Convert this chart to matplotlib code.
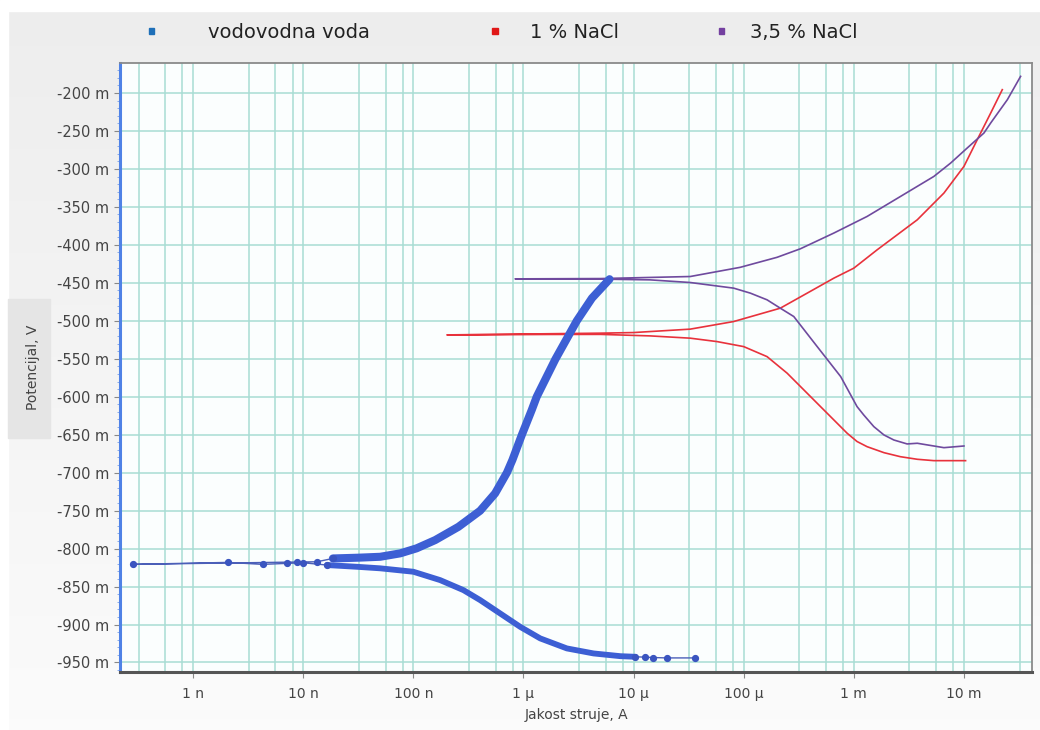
"""
Polarizacijske krivulje (Tafel) - vodovodna voda, 1 % NaCl, 3,5 % NaCl.
"""

import matplotlib
matplotlib.use('Agg')
import matplotlib.pyplot as plt
import matplotlib.patches as patches
import matplotlib.ticker as mticker
import numpy as np

# --- data: current (A), potential (V) ---
# vodovodna voda, split by how dense the measured points are
blue_tail_I = [3.63e-5, 2.0e-5, 1.51e-5, 1.28e-5, 1.035e-5]
blue_tail_E = [-0.944, -0.944, -0.9435, -0.943, -0.9425]

blue_cath_I = [1.035e-5, 7.59e-6, 4.33e-6, 2.48e-6, 1.42e-6, 9.33e-7, 6.14e-7,
               4.04e-7, 2.85e-7, 1.75e-7, 1.0e-7, 5.0e-8, 3.09e-8, 1.64e-8]
blue_cath_E = [-0.9425, -0.9417, -0.9381, -0.9315, -0.9183, -0.903, -0.8854,
               -0.8678, -0.8547, -0.8415, -0.8305, -0.826, -0.824, -0.8217]

blue_tip_I = [1.64e-8, 1.0e-8, 7.1e-9, 4.27e-9, 2.07e-9, 2.85e-10,
              8.7e-9, 1.33e-8, 1.86e-8]
blue_tip_E = [-0.8217, -0.8187, -0.8195, -0.8208, -0.8182, -0.8208,
              -0.8177, -0.8174, -0.813]

blue_anod_I = [1.86e-8, 3.16e-8, 5.0e-8, 7.6e-8, 1.07e-7, 1.58e-7, 2.57e-7,
               4.04e-7, 5.53e-7, 7.08e-7, 7.94e-7, 9.66e-7, 1.19e-6, 1.32e-6,
               1.95e-6, 3.05e-6, 4.19e-6, 6.05e-6]
blue_anod_E = [-0.813, -0.812, -0.8108, -0.8063, -0.7997, -0.7888, -0.7713,
               -0.7502, -0.7273, -0.700, -0.6833, -0.6504, -0.6174, -0.600,
               -0.5506, -0.5001, -0.4702, -0.4452]

# 1 % NaCl
red_I = [1.035e-2, 5.33e-3, 3.77e-3, 2.65e-3, 1.88e-3, 1.32e-3, 1.07e-3,
         8.7e-4, 5.73e-4, 3.77e-4, 2.48e-4, 1.63e-4, 1.0e-4, 5.73e-5,
         3.27e-5, 1.41e-5, 5.0e-6, 1.74e-6, 6.2e-7, 2.02e-7,
         5.0e-6, 1.0e-5, 3.27e-5, 8.1e-5, 1.32e-4, 2.15e-4, 3.77e-4,
         6.6e-4, 1.0e-3, 1.63e-3, 3.77e-3, 6.58e-3, 1.0e-2, 1.32e-2,
         1.75e-2, 2.23e-2]
red_E = [-0.6842, -0.6842, -0.6824, -0.679, -0.6737, -0.6658, -0.659,
         -0.6481, -0.6218, -0.5954, -0.569, -0.5472, -0.534, -0.5274,
         -0.5229, -0.5199, -0.5179, -0.518, -0.5183, -0.5186,
         -0.5163, -0.5155, -0.511, -0.501, -0.4922, -0.4834, -0.4636,
         -0.4438, -0.4307, -0.4065, -0.367, -0.3318, -0.2967, -0.2616,
         -0.2264, -0.1956]

# 3,5 % NaCl
purple_I = [1.0e-2, 6.58e-3, 3.77e-3, 3.05e-3, 2.31e-3, 1.88e-3, 1.52e-3,
            1.23e-3, 1.07e-3, 7.6e-4, 4.65e-4, 2.85e-4, 2.15e-4, 1.63e-4,
            1.15e-4, 8.1e-5, 3.27e-5, 1.41e-5, 5.0e-6, 8.4e-7,
            5.0e-6, 3.27e-5, 9.3e-5, 2.01e-4, 3.27e-4, 6.58e-4, 1.32e-3,
            2.65e-3, 5.33e-3, 7.57e-3, 1.07e-2, 1.52e-2, 1.75e-2, 2.48e-2,
            3.27e-2]
purple_E = [-0.6649, -0.6671, -0.6613, -0.6622, -0.657, -0.6504, -0.6394,
            -0.624, -0.613, -0.5735, -0.534, -0.4944, -0.4834, -0.4724,
            -0.4636, -0.457, -0.4496, -0.4461, -0.4451, -0.4448,
            -0.4444, -0.4417, -0.4296, -0.4164, -0.4052, -0.3845, -0.3626,
            -0.3363, -0.3099, -0.2923, -0.2725, -0.2527, -0.2395, -0.2088,
            -0.1781]

legend_labels = ['vodovodna voda', '1 % NaCl', '3,5 % NaCl']
x_tick_vals = [1e-9, 1e-8, 1e-7, 1e-6, 1e-5, 1e-4, 1e-3, 1e-2]
x_tick_labels = ['1 n', '10 n', '100 n', '1 µ', '10 µ', '100 µ', '1 m', '10 m']
y_tick_vals = np.arange(-0.95, -0.19, 0.05)

BLUE = '#3d5fd4'
RED = '#e8323c'
PURPLE = '#6f4a9e'
GRID = '#a8ddd4'
TXT = '#444444'

fig = plt.figure(figsize=(10.4, 7.3), dpi=100)

# background gradient
bg = fig.add_axes([0, 0, 1, 1], zorder=-2)
grad = np.linspace(0.93, 0.985, 256).reshape(-1, 1)
bg.imshow(np.dstack([grad, grad, grad]), aspect='auto', extent=[0, 1, 0, 1])
bg.add_patch(patches.Rectangle((0, 0.985), 1, 0.015, color='white'))
bg.add_patch(patches.Rectangle((0, 0), 0.008, 1, color='white'))
bg.add_patch(patches.Rectangle((0.008, 0.40), 0.04, 0.19, color='#e5e5e5'))
bg.set_xlim(0, 1)
bg.set_ylim(0, 1)
bg.axis('off')

ax = fig.add_axes([0.1154, 0.0795, 0.8769, 0.8342])
ax.set_facecolor('#fbfefe')
ax.set_xscale('log')
ax.set_xlim(2.17e-10, 4.15e-2)
ax.set_ylim(-0.9625, -0.1605)

# grid: decades plus 3.2, 5.6, 8 within each decade
minor_pos = [d * m for d in 10.0 ** np.arange(-10, -1) for m in (3.2, 5.6, 8.0)]
ax.xaxis.set_major_locator(mticker.FixedLocator(x_tick_vals))
ax.xaxis.set_minor_locator(mticker.FixedLocator(minor_pos))
ax.xaxis.set_major_formatter(mticker.FixedFormatter(x_tick_labels))
ax.xaxis.set_minor_formatter(mticker.NullFormatter())
ax.yaxis.set_major_locator(mticker.FixedLocator(y_tick_vals))
ax.yaxis.set_minor_locator(mticker.MultipleLocator(0.01))
ax.yaxis.set_major_formatter(mticker.FuncFormatter(lambda v, _: f"{v * 1000:.0f} m"))

ax.grid(True, which='both', axis='x', color=GRID, lw=1.1)
ax.grid(True, which='major', axis='y', color=GRID, lw=1.1)
ax.set_axisbelow(True)

ax.tick_params(axis='x', which='major', length=4, color='#888888',
               labelsize=10, labelcolor=TXT, pad=7)
ax.tick_params(axis='x', which='minor', length=0)
ax.tick_params(axis='y', which='major', length=4, color='#888888',
               labelsize=10.5, labelcolor=TXT, pad=4)
ax.tick_params(axis='y', which='minor', length=2, color='#7aa0e8')

ax.spines['left'].set_color('#4f82e6')
ax.spines['left'].set_linewidth(2.2)
ax.spines['bottom'].set_color('#555555')
ax.spines['bottom'].set_linewidth(2.2)
for s in ('top', 'right'):
    ax.spines[s].set_color('#8a8a8a')
    ax.spines[s].set_linewidth(1.3)

# --- curves ---
ax.plot(red_I, red_E, color=RED, lw=1.2, zorder=3)
ax.plot(purple_I, purple_E, color=PURPLE, lw=1.2, zorder=3)

all_I = blue_tail_I + blue_cath_I + blue_tip_I + blue_anod_I
all_E = blue_tail_E + blue_cath_E + blue_tip_E + blue_anod_E
ax.plot(all_I, all_E, color='#4b5fb8', lw=1.0, zorder=4)
ax.plot(blue_cath_I, blue_cath_E, color=BLUE, lw=4.2,
        solid_capstyle='round', solid_joinstyle='round', zorder=4)
ax.plot(blue_anod_I, blue_anod_E, color=BLUE, lw=5.8,
        solid_capstyle='round', solid_joinstyle='round', zorder=4)
ax.plot(blue_tail_I + blue_tip_I, blue_tail_E + blue_tip_E, 'o', ms=4.2,
        color='#3a55c0', zorder=5)

ax.set_xlabel('Jakost struje, A', fontsize=10, color=TXT, labelpad=5)
ax.set_ylabel('Potencijal, V', fontsize=10, color=TXT, labelpad=12)

# --- legend across the top ---
leg_colors = ['#1e6fb8', '#e01818', '#7440a0']
leg_marker_x = [0.146, 0.476, 0.694]
leg_text_x = [0.200, 0.510, 0.721]
for lab, c, mx, tx in zip(legend_labels, leg_colors, leg_marker_x, leg_text_x):
    fig.patches.append(patches.Rectangle((mx - 0.0025, 0.954), 0.005, 0.008,
                                         color=c, transform=fig.transFigure))
    fig.text(tx, 0.956, lab, ha='left', va='center', fontsize=14,
             color='#222222')

fig.savefig('out.png', dpi=100)
